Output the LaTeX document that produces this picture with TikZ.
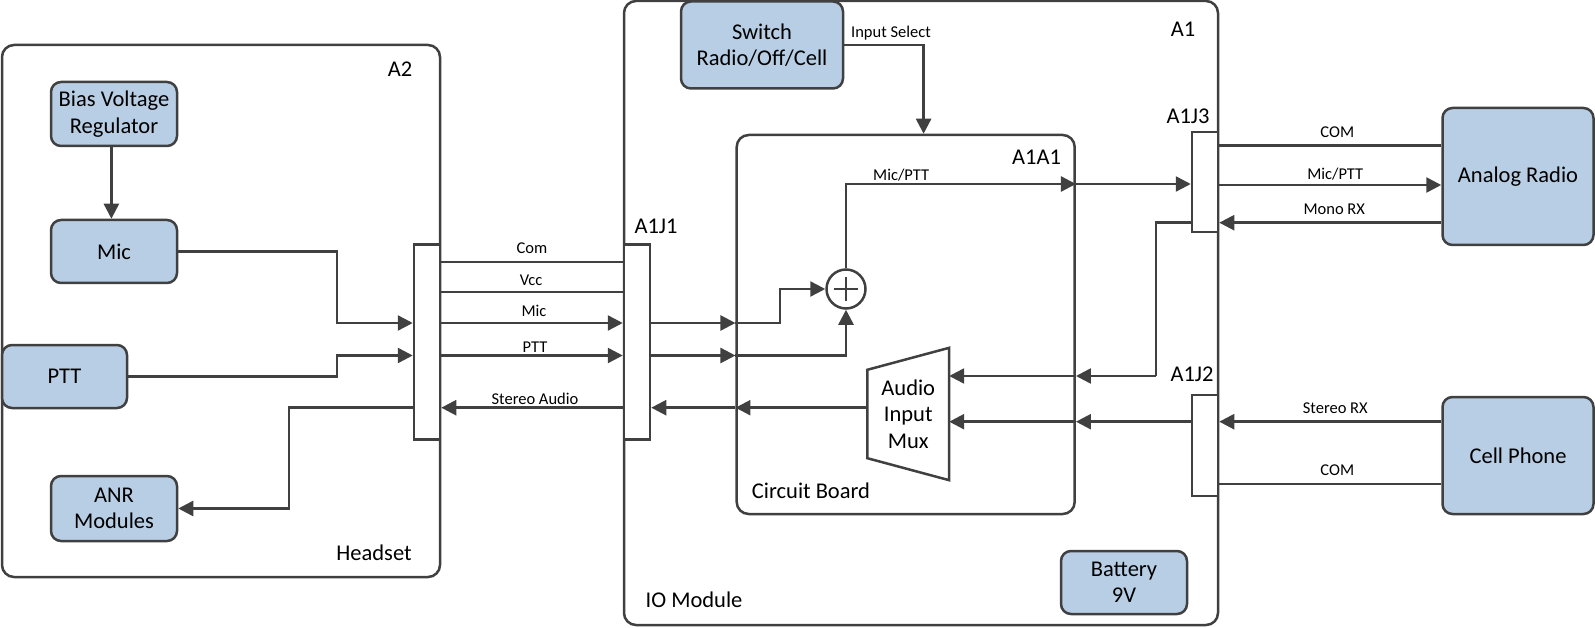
\documentclass[tikz,border=0pt]{standalone}
\usepackage{fontspec}
\setmainfont{Carlito}
\usepackage{xcolor}
\definecolor{dgline}{RGB}{64,64,64}
\definecolor{dgblue}{RGB}{184,206,228}
\usetikzlibrary{arrows.meta,positioning,calc}
\newcommand{\bigtxt}{\fontsize{22.5}{26.5}\selectfont}
\newcommand{\smalltxt}{\fontsize{16.5}{19}\selectfont}
\tikzset{
  frame/.style={draw=dgline,line width=2.5pt,rounded corners=12pt,inner sep=0pt},
  unitbox/.style={draw=dgline,fill=dgblue,line width=2.5pt,rounded corners=10pt,inner sep=0pt,align=center,font=\bigtxt},
  jackbox/.style={draw=dgline,fill=white,line width=2.5pt,inner sep=0pt,minimum width=26pt},
  sig/.style={draw=dgline,line width=2.5pt},
  arr/.style={sig,-{Triangle[length=15pt,width=15pt]}},
  tag/.style={font=\bigtxt,inner sep=0pt,align=center},
  wire/.style={font=\smalltxt,inner sep=0pt,midway}
}
\begin{document}
\begin{tikzpicture}[x=1pt,y=-1pt]
  \useasboundingbox (0,0) rectangle (1595,628);
  \node[frame,minimum width=438pt,minimum height=532pt] (a2) at (221,311) {};
  \node[frame,minimum width=594pt,minimum height=624pt] (a1) at (921,313) {};
  \node[frame,minimum width=338pt,minimum height=379pt] (a1a1) at (905.7,324.5) {};
  \node[unitbox,minimum width=126pt,minimum height=64pt] (bias) at (114,114) {Bias Voltage\\Regulator};
  \node[unitbox,minimum width=126pt,minimum height=63pt] (mic) at (114,251.5) {Mic};
  \node[unitbox,minimum width=125pt,minimum height=63pt] (ptt) at (64.5,376.5) {PTT};
  \node[unitbox,minimum width=126pt,minimum height=65pt] (anr) at (114,508.5) {ANR\\Modules};
  \node[unitbox,minimum width=162pt,minimum height=87pt] (switch) at (762,45) {Switch\\Radio/Off/Cell};
  \node[unitbox,minimum width=126pt,minimum height=63pt] (batt) at (1124,582.5) {Battery\\9V};
  \node[unitbox,minimum width=151pt,minimum height=137pt] (radio) at (1518,176.5) {Analog Radio};
  \node[unitbox,minimum width=151pt,minimum height=117pt] (cell) at (1518,455.5) {Cell Phone};
  \node[jackbox,minimum height=195pt] (hj) at (427,342) {};
  \node[jackbox,minimum height=195pt] (j1) at (637,342) {};
  \node[jackbox,minimum height=100pt] (j3) at (1205,182) {};
  \node[jackbox,minimum height=101pt] (j2) at (1205,445.5) {};
  \node[draw=dgline,line width=2.5pt,circle,inner sep=0pt,minimum size=39pt] (sum) at (846,289) {};
  \draw[sig] ([xshift=-12pt]sum.center) -- ([xshift=12pt]sum.center);
  \draw[sig] ([yshift=-12pt]sum.center) -- ([yshift=12pt]sum.center);
  \node[font=\bigtxt,inner sep=0pt,align=center,minimum width=81.5pt,minimum height=132pt] (mux) at (908.25,414) {Audio\\Input\\Mux};
  \draw[sig,line join=miter] (mux.north east) -- (mux.south east) -- ([yshift=22pt]mux.south west) -- ([yshift=-22pt]mux.north west) -- cycle;
  \node[tag] (ta2) at (400,69) {A2};
  \node[tag] (thead) at (374,553) {Headset};
  \node[tag] (ta1) at (1183,29.5) {A1};
  \node[tag] (tj1) at (656,226) {A1J1};
  \node[tag] (tj3) at (1188,116) {A1J3};
  \node[tag] (tj2) at (1192,374) {A1J2};
  \node[tag] (tboard) at (1036.5,157) {A1A1};
  \node[tag] (tcirc) at (811,491) {Circuit Board};
  \node[tag] (tio) at (694,600) {IO Module};
  \coordinate (lcom) at (530,262);
  \coordinate (lvcc) at (530,292);
  \coordinate (lmic) at (530,323);
  \coordinate (lptt) at (530,355.5);
  \coordinate (lste) at (530,407.7);
  \coordinate (lsel) at (923.6,45);
  \coordinate (lout) at (900,184);
  \coordinate (rcom) at (1320,145.5);
  \coordinate (rmic) at (1320,185);
  \coordinate (rmono) at (1320,222.7);
  \coordinate (rmux) at (1155.8,376);
  \coordinate (rste) at (1320,421.7);
  \coordinate (rcel) at (1320,484);
  \draw[arr] (bias.south -| 111.4,0) -- (mic.north -| 111.4,0);
  \draw[arr] (mic.east) -- (337,251.5) |- (hj.west |- lmic);
  \draw[arr] (ptt.east) -- (337,376.5) |- (hj.west |- lptt);
  \draw[arr] (hj.west |- lste) -- (289,407.7) |- (anr.east);
  \draw[sig] (hj.east |- lcom) -- node[wire,above=7pt] (ncom) {Com} (j1.west |- lcom);
  \draw[sig] (hj.east |- lvcc) -- node[wire,above=5pt,xshift=-1pt] (nvcc) {Vcc} (j1.west |- lvcc);
  \draw[arr] (hj.east |- lmic) -- node[wire,above=5pt,xshift=2pt] (nmic) {Mic} (j1.west |- lmic);
  \draw[arr] (hj.east |- lptt) -- node[wire,above=2pt,xshift=3pt] (nptt) {PTT} (j1.west |- lptt);
  \draw[arr] (j1.west |- lste) -- node[wire,above=2pt,xshift=3pt] (nste) {Stereo Audio} (hj.east |- lste);
  \draw[arr] (j1.east |- lmic) -- (a1a1.west |- lmic);
  \draw[arr] (j1.east |- lptt) -- (a1a1.west |- lptt);
  \draw[arr] (a1a1.west |- lste) -- (j1.east |- lste);
  \draw[arr] (a1a1.west |- lmic) -- (780,323) |- (sum.west);
  \draw[arr] (a1a1.west |- lptt) -| (sum.south);
  \draw[arr] (mux.west |- lste) -- (a1a1.west |- lste);
  \draw[arr] (sum.north) |- node[wire,pos=0.62,above=2pt] (npttin) {Mic/PTT} (a1a1.east |- lout);
  \draw[arr] (a1a1.east |- lout) -- (j3.west |- lout);
  \draw[arr] (switch.east |- lsel) -| (a1a1.north -| lsel);
  \node[font=\smalltxt,inner sep=0pt] (nsel) at (891,33.6) {Input Select};
  \draw[sig] (j3.west |- rmono) -- (rmono -| rmux) -- (rmux);
  \draw[arr] (rmux) -- (a1a1.east |- rmux);
  \draw[arr] (a1a1.east |- rmux) -- (mux.east |- rmux);
  \draw[arr] (j2.west |- rste) -- (a1a1.east |- rste);
  \draw[arr] (a1a1.east |- rste) -- (mux.east |- rste);
  \draw[sig] (j3.east |- rcom) -- node[wire,above=7pt,xshift=7pt] (nrcom) {COM} (radio.west |- rcom);
  \draw[arr] (j3.east |- rmic) -- node[wire,above=4pt,xshift=5pt] (nrmic) {Mic/PTT} (radio.west |- rmic);
  \draw[arr] (radio.west |- rmono) -- node[wire,above=7pt,xshift=4pt] (nmono) {Mono RX} (j3.east |- rmono);
  \draw[arr] (cell.west |- rste) -- node[wire,above=7pt,xshift=5pt] (nrste) {Stereo RX} (j2.east |- rste);
  \draw[sig] (j2.east |- rcel) -- node[wire,above=7pt,xshift=7pt] (nrcel) {COM} (cell.west |- rcel);
\end{tikzpicture}
\end{document}
